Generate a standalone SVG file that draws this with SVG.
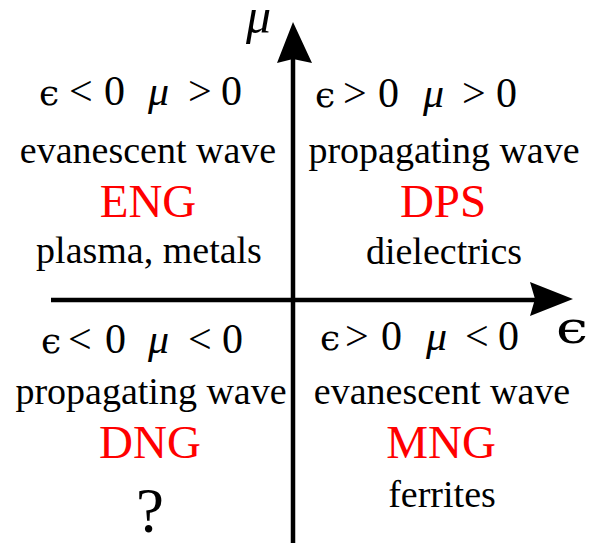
<svg xmlns="http://www.w3.org/2000/svg" width="590" height="543" viewBox="0 0 590 543">
<style>
.t{font-family:"Liberation Serif","DejaVu Serif",serif;font-size:38px;fill:#000;text-anchor:middle}
.r{font-family:"Liberation Serif","DejaVu Serif",serif;font-size:47px;fill:#ff0000;text-anchor:middle}
.m{font-family:"Liberation Serif","DejaVu Serif",serif;font-size:42px;fill:#000}
.i{font-style:italic}
.e{font-family:"DejaVu Serif","Liberation Serif",serif;font-size:36px}
.ax{stroke:#000;stroke-width:4.5;fill:none}
</style>
<rect width="590" height="543" fill="#fff"/>
<g id="axes">
<line class="ax" x1="51" y1="300" x2="540" y2="300"/>
<path d="M573,299 L530,282 L535,299 L530,316 Z" fill="#000"/>
<line class="ax" x1="293" y1="543" x2="293" y2="58"/>
<path d="M293,22 L277,63 L293,59 L312,63 Z" fill="#000"/>
<text class="m i" x="246" y="33" style="font-size:50px">μ</text>
<text class="m e" transform="translate(556,343) scale(1.3,1)" style="font-size:44px">ϵ</text>
</g>
<g id="q1">
<text class="m" y="105"><tspan class="e" x="39">ϵ</tspan><tspan x="69">&lt;</tspan><tspan x="104">0</tspan><tspan class="i" x="148">μ</tspan><tspan x="188">&gt;</tspan><tspan x="221">0</tspan></text>
<text class="t" x="148" y="163">evanescent wave</text>
<text class="r" x="148" y="217">ENG</text>
<text class="t" x="149" y="263">plasma, metals</text>
</g>
<g id="q2">
<text class="m" y="107"><tspan class="e" x="315">ϵ</tspan><tspan x="343">&gt;</tspan><tspan x="378">0</tspan><tspan class="i" x="423">μ</tspan><tspan x="462">&gt;</tspan><tspan x="496">0</tspan></text>
<text class="t" x="444" y="163">propagating wave</text>
<text class="r" x="443" y="217">DPS</text>
<text class="t" x="444" y="264">dielectrics</text>
</g>
<g id="q3">
<text class="m" y="353"><tspan class="e" x="41">ϵ</tspan><tspan x="68">&lt;</tspan><tspan x="105">0</tspan><tspan class="i" x="148">μ</tspan><tspan x="188">&lt;</tspan><tspan x="222">0</tspan></text>
<text class="t" x="151" y="404">propagating wave</text>
<text class="r" x="150" y="458">DNG</text>
<text class="t" x="150" y="532" style="font-size:63px">?</text>
</g>
<g id="q4">
<text class="m" y="350"><tspan class="e" x="320">ϵ</tspan><tspan x="345">&gt;</tspan><tspan x="381">0</tspan><tspan class="i" x="426">μ</tspan><tspan x="465">&lt;</tspan><tspan x="498">0</tspan></text>
<text class="t" x="442" y="404">evanescent wave</text>
<text class="r" x="441" y="458">MNG</text>
<text class="t" x="442" y="507">ferrites</text>
</g>
</svg>
